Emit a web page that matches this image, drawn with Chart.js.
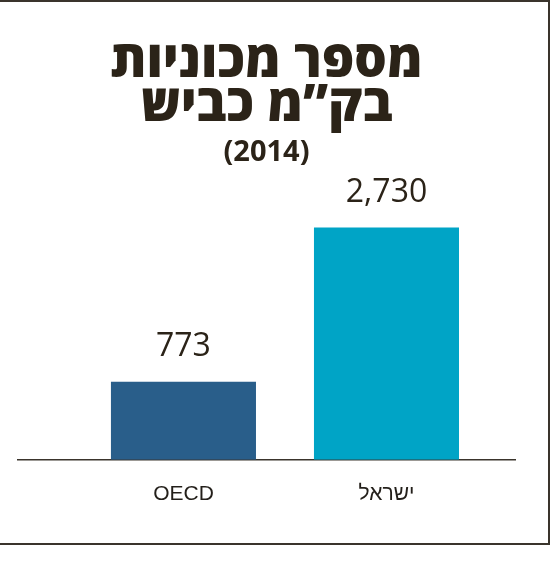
<!DOCTYPE html>
<html>
<head>
<meta charset="utf-8">
<script src="https://cdn.jsdelivr.net/npm/chart.js@4"></script>
<style>
  html, body { margin: 0; padding: 0; background: #fff; }
  #wrap { position: relative; width: 552px; height: 561px; }
  #frame { position: absolute; left: -4px; top: 0; width: 554px; height: 545px;
           border-top: 2px solid #3a342c; border-right: 2px solid #3a342c; border-bottom: 2px solid #3a342c;
           pointer-events: none; box-sizing: border-box; }
  canvas { position: absolute; left: 0; top: 0; }
</style>
</head>
<body>
<div id="wrap">
  <canvas id="c" width="552" height="561"></canvas>
  <div id="frame"></div>
</div>
<script>
const titleLines = ['מספר מכוניות', 'בק”מ כביש'];
const subtitleText = '(2014)';
const categories = ['OECD', 'ישראל'];
const values = [773, 2730];
const barColors = ['#295e8a', '#00a4c6'];
const yMin = -218;
const yMax = 3225;

const valueLabels = {
  id: 'valueLabels',
  afterDatasetsDraw(chart) {
    const ctx = chart.ctx;
    const meta = chart.getDatasetMeta(0);
    ctx.save();
    ctx.font = '400 32px "Open Sans", "DejaVu Sans", sans-serif';
    ctx.fillStyle = '#2b2318';
    ctx.textAlign = 'center';
    ctx.textBaseline = 'middle';
    meta.data.forEach((bar, i) => {
      ctx.fillText(values[i].toLocaleString('en-US'), bar.x, bar.y - 35);
    });
    ctx.restore();
  }
};

new Chart(document.getElementById('c'), {
  type: 'bar',
  data: {
    datasets: [{
      data: categories.map((c, i) => ({ x: i, y: values[i] })),
      backgroundColor: barColors,
      base: yMin,
      barPercentage: 0.893,
      categoryPercentage: 0.8
    }]
  },
  options: {
    responsive: false,
    animation: false,
    devicePixelRatio: 1,
    layout: { padding: { left: 18, right: 37, top: 0, bottom: 32 } },
    plugins: {
      legend: { display: false },
      tooltip: { enabled: false },
      title: {
        display: true,
        text: titleLines,
        color: '#2b2318',
        font: { family: '"Open Sans", "DejaVu Sans", sans-serif', size: 51, weight: '800', lineHeight: 0.86 },
        padding: { top: 41, bottom: 0 }
      },
      subtitle: {
        display: true,
        text: subtitleText,
        color: '#2b2318',
        font: { family: '"Open Sans", "DejaVu Sans", sans-serif', size: 29, weight: '700', lineHeight: 1.1 },
        padding: { top: 8, bottom: 20 }
      }
    },
    scales: {
      x: {
        type: 'linear',
        offset: false,
        min: -0.815,
        max: 1.633,
        afterBuildTicks: (s) => { s.ticks = categories.map((c, i) => ({ value: i })); },
        ticks: {
          callback: (v) => categories[v],
          color: '#231f1a',
          padding: 22,
          font: { family: '"Liberation Sans", Arial, sans-serif', size: 21 },
          maxRotation: 0,
          autoSkip: false
        },
        grid: { display: false, drawTicks: false, offset: false },
        border: { display: true, color: '#3a342c', width: 1.5 }
      },
      y: {
        display: false,
        min: yMin,
        max: yMax
      }
    }
  },
  plugins: [valueLabels]
});
</script>
</body>
</html>
